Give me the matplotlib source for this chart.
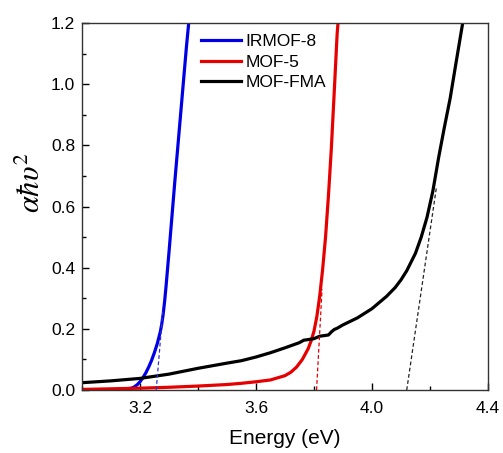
import numpy as np
import matplotlib
matplotlib.use('Agg')
import matplotlib.pyplot as plt

plt.rcParams['font.family'] = 'Liberation Sans'
plt.rcParams['mathtext.fontset'] = 'stix'

# IRMOF-8 (blue)
irmof8_e = [3.00, 3.10, 3.15, 3.17, 3.18, 3.19, 3.20, 3.21, 3.22, 3.23, 3.24, 3.25,
            3.26, 3.27, 3.275, 3.28, 3.285, 3.29, 3.30, 3.31, 3.32, 3.33, 3.34, 3.35, 3.36, 3.368]
irmof8_y = [0.0, 0.001, 0.003, 0.006, 0.010, 0.017, 0.027, 0.040, 0.056, 0.075, 0.097, 0.123,
            0.153, 0.190, 0.215, 0.248, 0.29, 0.34, 0.45, 0.565, 0.68, 0.79, 0.90, 1.01, 1.12, 1.2]

# MOF-5 (red)
mof5_e = [3.00, 3.10, 3.20, 3.30, 3.40, 3.50, 3.55, 3.60, 3.65, 3.70, 3.72, 3.74, 3.76,
          3.78, 3.79, 3.80, 3.81, 3.82, 3.83, 3.84, 3.85, 3.86, 3.87, 3.88, 3.883]
mof5_y = [0.002, 0.004, 0.006, 0.009, 0.013, 0.018, 0.022, 0.027, 0.033, 0.047, 0.058, 0.075, 0.100,
          0.135, 0.160, 0.192, 0.240, 0.308, 0.395, 0.50, 0.635, 0.79, 0.975, 1.165, 1.2]

# MOF-FMA (black)
fma_e = [3.00, 3.10, 3.20, 3.30, 3.40, 3.50, 3.55, 3.60, 3.65, 3.70, 3.75, 3.765, 3.78, 3.80,
         3.82, 3.835, 3.85, 3.86, 3.87, 3.88, 3.90, 3.95, 4.00, 4.05, 4.08, 4.10, 4.12, 4.15,
         4.17, 4.19, 4.21, 4.23, 4.25, 4.27, 4.29, 4.313]
fma_y = [0.024, 0.030, 0.038, 0.052, 0.071, 0.088, 0.096, 0.108, 0.122, 0.138, 0.155, 0.163, 0.165, 0.168,
         0.176, 0.178, 0.180, 0.190, 0.198, 0.202, 0.213, 0.236, 0.266, 0.306, 0.335, 0.360, 0.390, 0.447,
         0.500, 0.565, 0.650, 0.760, 0.860, 0.955, 1.070, 1.2]

# tangent lines (band gap extrapolation)
irmof8_fit_e = [3.256, 3.279]
irmof8_fit_y = [0.0, 0.26]
mof5_fit_e = [3.809, 3.828]
mof5_fit_y = [0.0, 0.33]
fma_fit_e = [4.120, 4.222]
fma_fit_y = [0.0, 0.66]

fig = plt.figure(figsize=(5.03, 4.53), dpi=100)
ax = fig.add_axes([0.163, 0.139, 0.807, 0.810])

ax.plot(irmof8_e, irmof8_y, color='#0000e6', lw=2.3, label='IRMOF-8')
ax.plot(mof5_e, mof5_y, color='#e60000', lw=2.3, label='MOF-5')
ax.plot(fma_e, fma_y, color='black', lw=2.3, label='MOF-FMA')

ax.plot(irmof8_fit_e, irmof8_fit_y, color='#3333cc', lw=0.9, ls=(0, (3, 2)))
ax.plot(mof5_fit_e, mof5_fit_y, color='#e60000', lw=0.9, ls=(0, (3, 2)))
ax.plot(fma_fit_e, fma_fit_y, color='#222222', lw=0.9, ls=(0, (3, 2)))

ax.set_xlim(3.0, 4.4)
ax.set_ylim(0.0, 1.2)
ax.set_xticks([3.2, 3.6, 4.0, 4.4])
ax.set_xticks([3.0, 3.4, 3.8, 4.2], minor=True)
ax.set_yticks(np.arange(0, 1.21, 0.2))
ax.set_yticks(np.arange(0.1, 1.2, 0.2), minor=True)
ax.set_xticklabels(['3.2', '3.6', '4.0', '4.4'])
ax.set_yticklabels(['0.0', '0.2', '0.4', '0.6', '0.8', '1.0', '1.2'])
ax.tick_params(which='both', direction='in', labelsize=12.5, width=1, top=False, right=False)
ax.tick_params(axis='x', which='major', length=5, pad=8)
ax.tick_params(axis='y', which='major', length=5, pad=5)
ax.tick_params(which='minor', length=3)
for s in ax.spines.values():
    s.set_linewidth(1)
    s.set_color('#333333')

ax.set_xlabel('Energy (eV)', fontsize=15, labelpad=9)
ax.set_ylabel(r'$\alpha\hbar\upsilon^2$', fontsize=22)
ax.yaxis.set_label_coords(-0.085, 0.565)

ax.legend(loc='upper left', bbox_to_anchor=(0.255, 1.012), frameon=False, fontsize=12.5,
          handlelength=2.3, handletextpad=0.25, labelspacing=0.3, borderaxespad=0.5)

fig.savefig('out.png', dpi=100)
